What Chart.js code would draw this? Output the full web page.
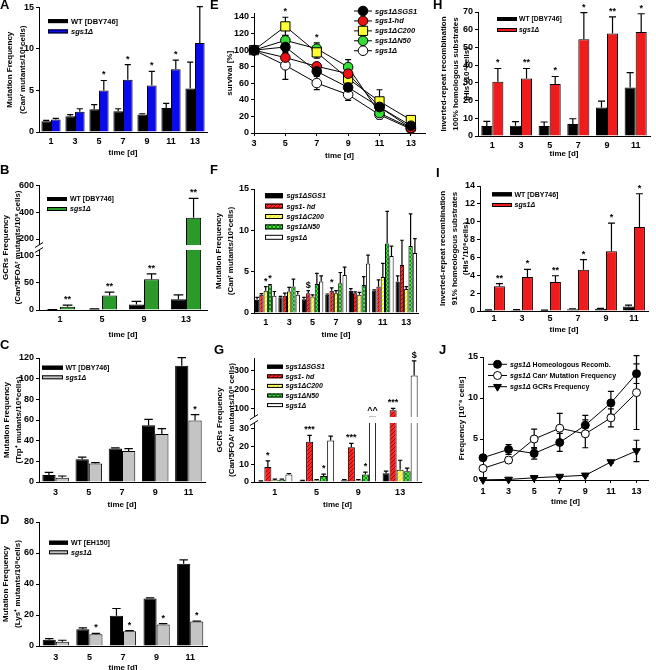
<!DOCTYPE html>
<html><head><meta charset="utf-8">
<script src="https://cdn.jsdelivr.net/npm/chart.js@4.4.1/dist/chart.umd.min.js"></script>
<style>
html,body{margin:0;padding:0;background:#fff;}
#fig{position:relative;width:656px;height:670px;overflow:hidden;background:#fff;}
#fig canvas{position:absolute;}
.pl{position:absolute;font:bold 13px 'Liberation Sans',Arial,sans-serif;color:#000;line-height:13px;}
</style></head><body><div id="fig"></div>
<script>
// ================= DATA =================
// Panel A
const aDays = ['1','3','5','7','9','11','13'];
const aWT = [1.3, 1.9, 2.75, 2.5, 2.1, 2.9, 5.25];
const aWTErr = [0.1, 0.2, 0.55, 0.3, 0.1, 0.55, 3.15];
const aSgs = [1.5, 2.45, 5.0, 6.3, 5.6, 7.55, 10.7];
const aSgsErr = [0.15, 0.35, 1.2, 1.8, 1.7, 1.1, 4.4];
const aStars = [null, null, '*', '*', '*', '*', null];
const aTicks = [0, 5, 10, 15];
// Panel B
const bDays = ['1','5','9','13'];
const bWT = [0.4, 1.5, 10, 20];
const bWTErr = [0.3, 0.5, 6, 8];
const bSgs = [6, 27, 57, 360];
const bSgsErr = [3, 6, 10, 145];
const bStars = ['**','**','**','**'];
const bTicks = [0, 50, 100, 200, 400, 600];
// Panel C
const cDays = ['3','5','7','9','11'];
const cWT = [6.8, 22, 32.3, 54.8, 112.6];
const cWTErr = [2.6, 2, 0.7, 5.8, 7.7];
const cSgs = [4.2, 18, 30, 46.5, 59.4];
const cSgsErr = [1.6, 0.7, 2.3, 5.1, 5.8];
const cStars = [null, null, null, null, '*'];
const cTicks = [0, 20, 40, 60, 80, 100, 120];
// Panel D
const dDays = ['3','5','7','9','11'];
const dWT = [4.1, 10.8, 19.5, 30.7, 53];
const dWTErr = [0.7, 0.9, 4.7, 0.4, 2.6];
const dSgs = [2.8, 7.6, 9.5, 13.8, 15.8];
const dSgsErr = [0.9, 0.6, 0.4, 0.7, 0.3];
const dStars = [null, '*', '*', '*', '*'];
const dTicks = [0, 20, 40, 60, 80];
// Panel E (survival)
const eDays = [3, 5, 7, 9, 11, 13];
const eSGS1 = [100, 103.8, 74.4, 55, 31.4, 8.8];
const eSGS1Err = [0, 8, 5, 4, 7, 3];
const eHd = [100, 91, 80.5, 71.6, 31.4, 6];
const eHdErr = [0, 6, 4, 6, 8, 3];
const eC200 = [100, 128.7, 97.3, 65.6, 38.2, 15.7];
const eC200Err = [0, 11, 7, 7, 14, 3];
const eN50 = [100, 111.8, 101.8, 79.6, 24.1, 6];
const eN50Err = [0, 6, 7, 9, 6, 2];
const eSgs = [100, 81.7, 60.3, 46.3, 22, 4.8];
const eSgsErr = [0, 17, 8, 7, 5, 2];
const eC200Stars = [null, '*', null, null, null, null];
const eN50Stars = [null, null, '*', null, null, null];
const eTicks = [0, 20, 40, 60, 80, 100, 120, 140];
const eXTicks = [3, 5, 7, 9, 11, 13];
// Panel F
const fDays = ['1','3','5','7','9','11','13'];
const fSGS1 = [1.6, 1.9, 1.65, 2.2, 2.7, 2.7, 3.8];
const fSGS1Err = [0.3, 0.1, 0.25, 0.1, 0.25, 0.1, 0.7];
const fHd = [2.2, 2.1, 2.4, 2.7, 2.4, 3.2, 5.8];
const fHdErr = [0.15, 0.3, 0.3, 0.35, 0.15, 0.8, 3.0];
const fC200 = [2.7, 2.6, 2.0, 2.4, 2.2, 4.35, 2.9];
const fC200Err = [0.5, 0.5, 0.2, 0.3, 0.3, 1.65, 0.3];
const fN50 = [3.35, 3.2, 3.5, 3.6, 3.4, 8.4, 8.1];
const fN50Err = [0.1, 0.9, 1.3, 1.3, 1.0, 3.9, 3.9];
const fSgs = [2.1, 2.2, 3.8, 4.6, 6.0, 6.9, 7.25];
const fSgsErr = [0.5, 0.4, 0.7, 0.95, 1.0, 1.2, 1.75];
const fHdStars = [null, null, '$', '*', null, null, null];
const fC200Stars = ['*', null, null, null, null, null, null];
const fN50Stars = ['*', null, null, null, null, null, null];
const fTicks = [0, 5, 10, 15];
// Panel G
const gDays = ['1','5','9','13'];
const gSGS1 = [0.4, 0.7, 1.0, 5.0];
const gSGS1Err = [0.2, 0.2, 0.4, 1.2];
const gHd = [8.5, 22.8, 19.7, 90];
const gHdErr = [3.5, 3.6, 2.2, 10];
const gC200 = [1.0, 0.8, 0.8, 7.0];
const gC200Err = [0.6, 0.5, 0.6, 5.3];
const gN50 = [1.3, 3.4, 4.2, 6.1];
const gN50Err = [0.3, 1.0, 1.4, 1.7];
const gSgs = [4.2, 23.5, 58, 272];
const gSgsErr = [0.6, 2.5, 0, 76];
const gHdStars = ['*', '***', '***', '***'];
const gN50Stars = [null, '*', '*', null];
const gSgsNotes = [null, null, '^^', '$'];
const gTicks = [0, 10, 20, 30, 100, 200, 300];
// Panel H
const hDays = ['1','3','5','7','9','11'];
const hWT = [5.6, 5.8, 5.6, 6.75, 16.1, 27.4];
const hWTErr = [2.7, 2.3, 2.3, 3.0, 3.6, 8.4];
const hSgs = [30.6, 32.5, 29.3, 54.6, 57.8, 58.7];
const hSgsErr = [7.5, 5.6, 4.3, 15, 9.4, 10.3];
const hStars = ['*', '**', '*', '*', '**', '*'];
const hTicks = [0, 10, 20, 30, 40, 50, 60, 70];
// Panel I
const iDays = ['1','3','5','7','9','11'];
const iWT = [0.1, 0.12, 0.08, 0.2, 0.25, 0.5];
const iWTErr = [0.03, 0.03, 0.02, 0.05, 0.05, 0.15];
const iSgs = [2.76, 3.8, 3.25, 4.63, 6.7, 9.4];
const iSgsErr = [0.3, 0.86, 0.7, 1.12, 3.15, 3.73];
const iStars = ['**', '*', '**', '*', '*', '*'];
const iTicks = [0, 2, 4, 6, 8, 10, 12, 14];
// Panel J
const jDays = [1, 3, 5, 7, 9, 11, 13];
const jHomeo = [2.72, 3.73, 3.24, 4.58, 6.69, 9.4, 12.97];
const jHomeoErr = [0.3, 0.6, 0.7, 1.1, 1.2, 1.4, 1.2];
const jCan = [1.42, 2.43, 5.0, 6.32, 5.63, 7.58, 10.66];
const jCanErr = [0.15, 0.35, 1.2, 1.8, 1.7, 1.1, 4.5];
const jGcr = [0.02, 0.07, 0.27, 0.42, 0.57, 2.2, 3.55];
const jGcrErr = [0, 0.02, 0.05, 0.1, 0.1, 0.15, 1.3];
const jTicks = [0, 5, 10, 15];
const jXTicks = [1, 3, 5, 7, 9, 11, 13];

// ================= SETUP =================
const FONT = "'Liberation Sans', Arial, Helvetica, sans-serif";
Chart.defaults.font.family = FONT;
Chart.defaults.color = '#000';
const fig = document.getElementById('fig');
const LEGENDS = {}, BREAKS = {};
const valOf = d => (d !== null && typeof d === 'object') ? d.y : d;

const LinearScale = Chart.LinearScale || Chart.registry.getScale('linear');
class BrokenScale extends LinearScale {
  getPixelForValue(value) {
    const br = BREAKS[this.chart.canvas.id];
    if (!br || value === null || value === undefined || isNaN(value)) return super.getPixelForValue(value);
    const lo = br.lo, hi = br.hi; let d;
    if (value <= lo.max) d = lo.f0 + (value - lo.min) / (lo.max - lo.min) * (lo.f1 - lo.f0);
    else if (value >= hi.min) d = hi.f0 + (value - hi.min) / (hi.max - hi.min) * (hi.f1 - hi.f0);
    else d = lo.f1 + (value - lo.max) / (hi.min - lo.max) * (hi.f0 - lo.f1);
    return this.getPixelForDecimal(d);
  }
}
BrokenScale.id = 'broken';
BrokenScale.defaults = LinearScale.defaults;
Chart.register(BrokenScale);

function stripePattern(bg, fg, size, lw) {
  const c = document.createElement('canvas'); c.width = c.height = size;
  const g = c.getContext('2d');
  g.fillStyle = bg; g.fillRect(0, 0, size, size);
  g.strokeStyle = fg; g.lineWidth = lw; g.beginPath();
  for (let k = -1; k <= 1; k++) { g.moveTo(k * size, size); g.lineTo(k * size + size, 0); }
  g.stroke();
  return g.createPattern(c, 'repeat');
}
function checkPattern(a, b, cell) {
  const c = document.createElement('canvas'); c.width = c.height = cell * 2;
  const g = c.getContext('2d');
  g.fillStyle = a; g.fillRect(0, 0, cell * 2, cell * 2);
  g.fillStyle = b; g.fillRect(0, 0, cell, cell); g.fillRect(cell, cell, cell, cell);
  return g.createPattern(c, 'repeat');
}
const RED_HATCH = stripePattern('#ff2222', '#a80000', 4, 1);
const YEL_HATCH = stripePattern('#f2f200', '#ffffcc', 4, 1.3);
const GRN_CHECK = checkPattern('#44e044', '#109010', 2);

const deco = {
  id: 'deco',
  beforeDatasetsDraw(chart) {
    const ctx = chart.ctx, ys = chart.scales.y;
    chart.data.datasets.forEach((ds, i) => {
      if (!ds.err) return;
      const meta = chart.getDatasetMeta(i);
      ctx.save();
      ctx.strokeStyle = '#000'; ctx.lineWidth = ds.errWidth || 1.2;
      meta.data.forEach((el, j) => {
        const e = ds.err[j]; if (!e) return;
        const v = valOf(ds.data[j]);
        const x = el.x;
        const yTop = ys.getPixelForValue(v + e);
        const yBot = ds.errBoth ? ys.getPixelForValue(v - e) : ys.getPixelForValue(v);
        const cw = el.width ? Math.max(1.8, el.width * 0.32) : 3;
        ctx.beginPath();
        ctx.moveTo(x, yBot); ctx.lineTo(x, yTop);
        ctx.moveTo(x - cw, yTop); ctx.lineTo(x + cw, yTop);
        if (ds.errBoth) { ctx.moveTo(x - cw, yBot); ctx.lineTo(x + cw, yBot); }
        ctx.stroke();
      });
      ctx.restore();
    });
  },
  afterDatasetsDraw(chart) {
    const ctx = chart.ctx, ys = chart.scales.y, ca = chart.chartArea;
    const br = BREAKS[chart.canvas.id];
    if (br) {
      const yLoTop = ys.getPixelForDecimal(br.lo.f1);
      const yHiBot = ys.getPixelForDecimal(br.hi.f0);
      ctx.save();
      ctx.fillStyle = '#fff';
      ctx.fillRect(ca.left - 6, yHiBot, ca.right - ca.left + 6, yLoTop - yHiBot);
      ctx.strokeStyle = '#000'; ctx.lineWidth = 1;
      ctx.beginPath();
      [yHiBot, yLoTop].forEach(y => { ctx.moveTo(ca.left - 4, y + 2.5); ctx.lineTo(ca.left + 4, y - 2.5); });
      ctx.stroke();
      ctx.restore();
    }
    ctx.save();
    ctx.fillStyle = '#000'; ctx.font = 'bold 9px ' + FONT;
    ctx.textAlign = 'center'; ctx.textBaseline = 'bottom';
    chart.data.datasets.forEach((ds, i) => {
      if (!ds.notes) return;
      const meta = chart.getDatasetMeta(i);
      ds.notes.forEach((t, j) => {
        if (!t) return;
        const v = valOf(ds.data[j]) + (ds.err ? (ds.err[j] || 0) : 0);
        ctx.fillText(t, meta.data[j].x, ys.getPixelForValue(v) - 1);
      });
    });
    ctx.restore();
  },
  afterDraw(chart) {
    const lg = LEGENDS[chart.canvas.id]; if (!lg) return;
    const ctx = chart.ctx, ca = chart.chartArea;
    ctx.save();
    chart.data.datasets.forEach((ds, i) => {
      const y = ca.top + lg.dy + i * lg.step;
      const x0 = ca.left + lg.dx;
      if (lg.kind === 'box') {
        ctx.fillStyle = ds.backgroundColor;
        ctx.fillRect(x0, y - lg.h / 2, lg.w, lg.h);
        ctx.strokeStyle = '#000'; ctx.lineWidth = 1;
        ctx.strokeRect(x0 + 0.5, y - lg.h / 2 + 0.5, lg.w - 1, lg.h - 1);
      } else {
        ctx.strokeStyle = '#000'; ctx.lineWidth = 1;
        ctx.beginPath(); ctx.moveTo(x0, y); ctx.lineTo(x0 + lg.w, y); ctx.stroke();
        ctx.fillStyle = ds.pointBackgroundColor; ctx.strokeStyle = '#000';
        Chart.helpers.drawPoint(ctx, {pointStyle: ds.pointStyle, radius: ds.pointRadius, rotation: ds.pointRotation || 0, borderWidth: 1}, x0 + lg.w / 2, y);
      }
      let tx = x0 + lg.w + lg.gap;
      ctx.fillStyle = '#000'; ctx.textBaseline = 'middle'; ctx.textAlign = 'left';
      const m = ds.label.match(/^(sgs1(?:- hd|\S*))(.*)$/);
      const parts = m ? [[m[1], true], [m[2], false]] : [[ds.label, false]];
      parts.forEach(([t, it]) => {
        if (!t) return;
        ctx.font = (it ? 'italic ' : '') + 'bold ' + lg.size + 'px ' + FONT;
        ctx.fillText(t, tx, y + 0.5);
        tx += ctx.measureText(t).width;
      });
    });
    ctx.restore();
  }
};

function makePanel(p) {
  const [L, T, R, B] = p.canvas, [l, t, r, b] = p.plot;
  const cv = document.createElement('canvas');
  cv.id = p.id; cv.width = R - L; cv.height = B - T;
  cv.style.left = L + 'px'; cv.style.top = T + 'px';
  cv.style.width = (R - L) + 'px'; cv.style.height = (B - T) + 'px';
  fig.appendChild(cv);
  if (p.legend) LEGENDS[p.id] = p.legend;
  if (p.brk) BREAKS[p.id] = p.brk;
  const tickLH = 9 * 1.2;
  const tlh = p.titleLH || 1.45;
  const tickFont = {family: FONT, size: 9, weight: 'bold', lineHeight: 1.2};
  const titleFont = {family: FONT, size: 8, weight: 'bold', lineHeight: tlh};
  const linX = !!p.xTicks;
  const xTitle = {display: true, text: 'time [d]', font: titleFont, padding: {top: 0, bottom: 0}, color: '#000'};
  const xScale = linX ? {
    type: 'linear', min: p.xMin, max: p.xMax,
    afterBuildTicks: s => { s.ticks = p.xTicks.map(v => ({value: v})); },
    grid: {display: true, drawOnChartArea: false, drawTicks: true, tickLength: 3, color: '#000', lineWidth: 1},
    border: {display: true, color: '#000', width: 1},
    ticks: {font: tickFont, padding: p.xLabelY - b - 3 - tickLH / 2, autoSkip: false, maxRotation: 0, color: '#000'},
    title: xTitle,
    afterFit: s => { s.height = B - b; }
  } : {
    type: 'category',
    grid: {display: false, drawTicks: false},
    border: {display: true, color: '#000', width: 1},
    ticks: {font: tickFont, padding: p.xLabelY - b - tickLH / 2, autoSkip: false, maxRotation: 0, color: '#000'},
    title: xTitle,
    afterFit: s => { s.height = B - b; }
  };
  new Chart(cv, {
    type: p.type,
    data: {labels: p.labels, datasets: p.datasets},
    options: {
      responsive: false, animation: false, events: [], devicePixelRatio: 1,
      layout: {padding: {left: 0, top: t - T, right: R - r, bottom: 0}},
      plugins: {legend: {display: false}, tooltip: {enabled: false}},
      datasets: {bar: {categoryPercentage: p.catPct || 0.8, barPercentage: 1, borderWidth: 1, borderColor: '#000'}},
      scales: {
        x: xScale,
        y: {
          type: p.brk ? 'broken' : 'linear', min: p.yMin || 0, max: p.yMax,
          afterBuildTicks: s => { s.ticks = p.yTicks.map(v => ({value: v})); },
          grid: {display: true, drawOnChartArea: false, drawTicks: true, tickLength: 3, color: '#000', lineWidth: 1},
          border: {display: true, color: '#000', width: 1},
          ticks: {font: tickFont, padding: 2, color: '#000'},
          title: {display: true, text: p.yTitle, font: titleFont, padding: {top: p.yTitleX - L - 8 * tlh / 2, bottom: 0}, color: '#000'},
          afterFit: s => { s.width = l - L; }
        }
      }
    },
    plugins: [deco]
  });
}

function barDs(label, data, err, color, notes) {
  return {label, data, err, backgroundColor: color, notes};
}
function lineDs(label, xs, ys, err, fill, style, radius, notes, rot) {
  return {
    label, data: xs.map((x, k) => ({x, y: ys[k]})), err, errBoth: true,
    borderColor: '#000', borderWidth: 1, tension: 0, fill: false, clip: false,
    pointStyle: style, pointRadius: radius, pointBackgroundColor: fill,
    pointBorderColor: '#000', pointBorderWidth: 1, pointRotation: rot || 0, notes
  };
}

// ================= PANELS =================
makePanel({
  id: 'pA', type: 'bar', canvas: [0, 0, 212, 159], plot: [39, 7, 207, 132], xLabelY: 142,
  yTitleX: 10, titleLH: 1.6, catPct: 0.8, yMax: 15, yTicks: aTicks, labels: aDays,
  yTitle: ['Mutation Frequency', '(Canʳ mutants/10⁶cells)'],
  datasets: [barDs('WT [DBY746]', aWT, aWTErr, '#000000'), barDs('sgs1Δ', aSgs, aSgsErr, '#0a0aee', aStars)],
  legend: {kind: 'box', dx: 9, dy: 13.7, step: 10.3, w: 20, h: 4, gap: 3, size: 7.5}
});
makePanel({
  id: 'pB', type: 'bar', canvas: [0, 168, 212, 341], plot: [39, 185, 207, 310], xLabelY: 320,
  yTitleX: 6, catPct: 0.72, yMax: 605, yTicks: bTicks, labels: bDays,
  brk: {lo: {min: 0, max: 111, f0: 0, f1: 0.48}, hi: {min: 155, max: 605, f0: 0.52, f1: 1}},
  yTitle: ['GCRs Frequency', '(Canʳ5FOAʳ mutants/10⁸ cells)'],
  datasets: [barDs('WT [DBY746]', bWT, bWTErr, '#000000'), barDs('sgs1Δ', bSgs, bSgsErr, '#2b9a2b', bStars)],
  legend: {kind: 'box', dx: 8, dy: 14, step: 10, w: 20, h: 4, gap: 3, size: 7}
});
makePanel({
  id: 'pC', type: 'bar', canvas: [0, 345, 212, 511], plot: [39, 358, 205, 482], xLabelY: 493,
  yTitleX: 7, catPct: 0.8, yMax: 120, yTicks: cTicks, labels: cDays,
  yTitle: ['Mutation Frequency', '(Trp⁺ mutants/10⁸cells)'],
  datasets: [barDs('WT [DBY746]', cWT, cWTErr, '#000000'), barDs('sgs1Δ', cSgs, cSgsErr, '#c4c4c4', cStars)],
  legend: {kind: 'box', dx: 3, dy: 9.7, step: 9.6, w: 21, h: 4, gap: 2.5, size: 7}
});
makePanel({
  id: 'pD', type: 'bar', canvas: [0, 512, 212, 674], plot: [39, 522, 207, 646], xLabelY: 658,
  yTitleX: 6, catPct: 0.78, yMax: 80, yTicks: dTicks, labels: dDays,
  yTitle: ['Mutation Frequency', '(Lys⁺ mutants/10⁸cells)'],
  datasets: [barDs('WT [EH150]', dWT, dWTErr, '#000000'), barDs('sgs1Δ', dSgs, dSgsErr, '#c4c4c4', dStars)],
  legend: {kind: 'box', dx: 10, dy: 20.7, step: 9.6, w: 19, h: 4, gap: 3, size: 7}
});
makePanel({
  id: 'pE', type: 'line', canvas: [214, 0, 438, 162], plot: [254, 13.7, 425, 133], xLabelY: 144,
  yTitleX: 230, yMax: 144, yTicks: eTicks, xTicks: eXTicks, xMin: 3, xMax: 13.9,
  yTitle: 'survival [%]',
  datasets: [
    lineDs('sgs1ΔSGS1', eDays, eSGS1, eSGS1Err, '#000000', 'circle', 4.8),
    lineDs('sgs1-hd', eDays, eHd, eHdErr, '#ee1111', 'circle', 4.8),
    lineDs('sgs1ΔC200', eDays, eC200, eC200Err, '#ffff33', 'rect', 6.5, eC200Stars),
    lineDs('sgs1ΔN50', eDays, eN50, eN50Err, '#33dd33', 'circle', 4.8, eN50Stars),
    lineDs('sgs1Δ', eDays, eSgs, eSgsErr, '#ffffff', 'circle', 4.8)
  ],
  legend: {kind: 'line', dx: 100, dy: -2.7, step: 9.93, w: 18, gap: 3, size: 7.5}
});
makePanel({
  id: 'pF', type: 'bar', canvas: [213, 180, 438, 341], plot: [254, 189, 418, 313], xLabelY: 323,
  yTitleX: 219, catPct: 0.92, yMax: 15, yTicks: fTicks, labels: fDays,
  yTitle: ['Mutation Frequency', '(Canʳ mutants/10⁶cells)'],
  datasets: [
    barDs('sgs1ΔSGS1', fSGS1, fSGS1Err, '#000000'),
    barDs('sgs1- hd', fHd, fHdErr, RED_HATCH, fHdStars),
    barDs('sgs1ΔC200', fC200, fC200Err, YEL_HATCH, fC200Stars),
    barDs('sgs1ΔN50', fN50, fN50Err, GRN_CHECK, fN50Stars),
    barDs('sgs1Δ', fSgs, fSgsErr, '#ffffff')
  ],
  legend: {kind: 'box', dx: 11, dy: 6.7, step: 10.4, w: 18, h: 5, gap: 3.5, size: 7}
});
makePanel({
  id: 'pG', type: 'bar', canvas: [213, 345, 438, 511], plot: [254, 358, 421, 482], xLabelY: 493,
  yTitleX: 220, catPct: 0.84, yMax: 363, yTicks: gTicks, labels: gDays,
  brk: {lo: {min: 0, max: 33.4, f0: 0, f1: 0.476}, hi: {min: 55, max: 363, f0: 0.524, f1: 1}},
  yTitle: ['GCRs Frequency', '(Canʳ5FOAʳ mutants/10⁸ cells)'],
  datasets: [
    barDs('sgs1ΔSGS1', gSGS1, gSGS1Err, '#000000'),
    barDs('sgs1- hd', gHd, gHdErr, RED_HATCH, gHdStars),
    barDs('sgs1ΔC200', gC200, gC200Err, YEL_HATCH),
    barDs('sgs1ΔN50', gN50, gN50Err, GRN_CHECK, gN50Stars),
    barDs('sgs1Δ', gSgs, gSgsErr, '#ffffff', gSgsNotes)
  ],
  legend: {kind: 'box', dx: 13, dy: 8.7, step: 9.6, w: 16, h: 4, gap: 2.5, size: 7}
});
makePanel({
  id: 'pH', type: 'bar', canvas: [438, 0, 656, 160], plot: [478, 12, 650, 136], xLabelY: 146,
  yTitleX: 444, catPct: 0.77, yMax: 70, yTicks: hTicks, labels: hDays,
  yTitle: ['Inverted-repeat recombination', '100% homologous substrates', '(His⁺/10⁴cells)'],
  datasets: [barDs('WT [DBY746]', hWT, hWTErr, '#000000'), barDs('sgs1Δ', hSgs, hSgsErr, '#ee1c1c', hStars)],
  legend: {kind: 'box', dx: 19, dy: 7, step: 11, w: 20, h: 4, gap: 2, size: 6.8}
});
makePanel({
  id: 'pI', type: 'bar', canvas: [437, 178, 656, 336], plot: [480, 186, 648, 311], xLabelY: 319,
  yTitleX: 443, catPct: 0.78, yMax: 14, yTicks: iTicks, labels: iDays,
  yTitle: ['Inverted-repeat recombination', '91% homeologous substrates', '(His⁺/10⁶cells)'],
  datasets: [barDs('WT [DBY746]', iWT, iWTErr, '#000000'), barDs('sgs1Δ', iSgs, iSgsErr, '#ee1c1c', iStars)],
  legend: {kind: 'box', dx: 12, dy: 8.3, step: 10.7, w: 20, h: 4, gap: 2.5, size: 7}
});
makePanel({
  id: 'pJ', type: 'line', canvas: [439, 345, 656, 508], plot: [483, 357, 648, 480], xLabelY: 492,
  yTitleX: 462, yMax: 15, yTicks: jTicks, xTicks: jXTicks, xMin: 1, xMax: 13.9,
  yTitle: 'Frequency [10⁻⁶ cells]',
  datasets: [
    lineDs('sgs1Δ Homeologous Recomb.', jDays, jHomeo, jHomeoErr, '#000000', 'circle', 4),
    lineDs('sgs1Δ Canʳ Mutation Frequency', jDays, jCan, jCanErr, '#ffffff', 'circle', 4),
    lineDs('sgs1Δ GCRs Frequency', jDays, jGcr, jGcrErr, '#000000', 'triangle', 4.5, null, 180)
  ],
  legend: {kind: 'line', dx: 5, dy: 7.3, step: 11.2, w: 19, gap: 3, size: 7}
});

// panel letters
[['A', 0, 0], ['B', 0, 165], ['C', 0, 340], ['D', 0, 515], ['E', 210, 0], ['F', 210, 165],
 ['G', 214, 345], ['H', 433, 0], ['I', 436, 168], ['J', 439, 345]].forEach(([s, x, y]) => {
  const d = document.createElement('div'); d.className = 'pl'; d.textContent = s;
  d.style.left = x + 'px'; d.style.top = (y - 2) + 'px'; fig.appendChild(d);
});
</script></body></html>
